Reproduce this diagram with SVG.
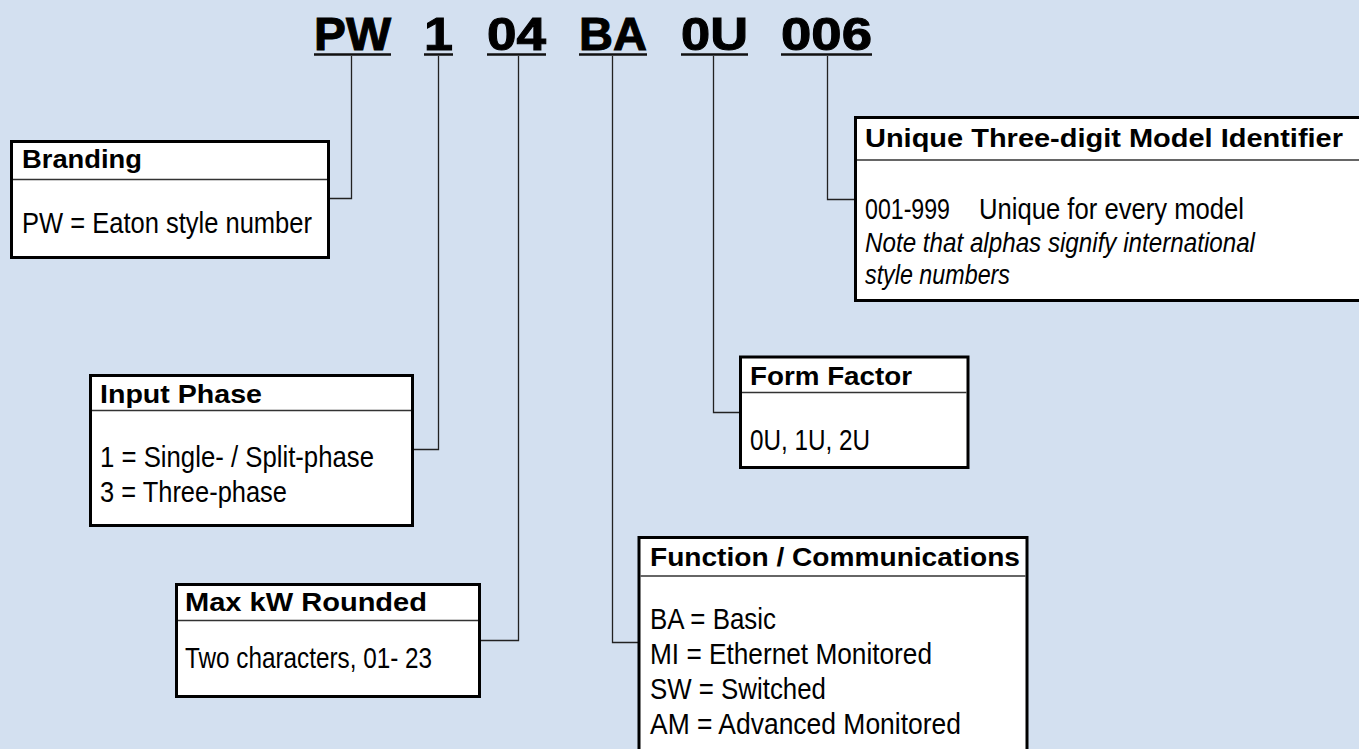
<svg xmlns="http://www.w3.org/2000/svg" width="1359" height="749" viewBox="0 0 1359 749">
<style>
.bg{fill:#D3E0F0}
.box{fill:#fff;stroke:#000;stroke-width:3}
.sep{stroke:#333;stroke-width:1.5;fill:none}
.con{stroke:#222;stroke-width:1.3;fill:none}
.ul{stroke:#111;stroke-width:2.5}
.code{font-family:"Liberation Sans",Arial,sans-serif;font-weight:bold;font-size:46px;fill:#000;stroke:#000;stroke-width:1}
.hd{font-family:"Liberation Sans",Arial,sans-serif;font-weight:bold;font-size:26px;fill:#000}
.tx{font-family:"Liberation Sans",Arial,sans-serif;font-size:29.5px;fill:#000}
.it{font-family:"Liberation Sans",Arial,sans-serif;font-size:27px;font-style:italic;fill:#000}
</style>
<rect class="bg" x="0" y="0" width="1359" height="749"/>
<g id="code">
<text class="code" x="314" y="50" textLength="77" lengthAdjust="spacingAndGlyphs">PW</text>
<text class="code" x="424" y="50" textLength="29" lengthAdjust="spacingAndGlyphs">1</text>
<text class="code" x="487" y="50" textLength="59" lengthAdjust="spacingAndGlyphs">04</text>
<text class="code" x="579" y="50" textLength="68" lengthAdjust="spacingAndGlyphs">BA</text>
<text class="code" x="681" y="50" textLength="67" lengthAdjust="spacingAndGlyphs">0U</text>
<text class="code" x="781" y="50" textLength="91" lengthAdjust="spacingAndGlyphs">006</text>
<line class="ul" x1="314" y1="54.5" x2="391" y2="54.5"/>
<line class="ul" x1="424" y1="54.5" x2="453" y2="54.5"/>
<line class="ul" x1="487" y1="54.5" x2="546" y2="54.5"/>
<line class="ul" x1="579" y1="54.5" x2="647" y2="54.5"/>
<line class="ul" x1="681" y1="54.5" x2="748" y2="54.5"/>
<line class="ul" x1="781" y1="54.5" x2="872" y2="54.5"/>
</g>
<g id="connectors">
<path class="con" d="M351.5 56 V198.5 H329"/>
<path class="con" d="M438.5 56 V449.5 H414"/>
<path class="con" d="M518.5 56 V640.5 H481"/>
<path class="con" d="M612.5 56 V642.5 H638"/>
<path class="con" d="M713.5 56 V412.5 H739"/>
<path class="con" d="M827.5 56 V199.5 H854"/>
</g>
<g id="branding">
<rect class="box" x="11.5" y="141.5" width="317" height="116"/>
<line class="sep" x1="13" y1="179.5" x2="327" y2="179.5"/>
<text class="hd" x="22" y="167.5" textLength="120" lengthAdjust="spacingAndGlyphs">Branding</text>
<text class="tx" x="22" y="233" textLength="290" lengthAdjust="spacingAndGlyphs">PW = Eaton style number</text>
</g>
<g id="unique">
<rect class="box" x="855.5" y="117.5" width="510" height="183"/>
<line class="sep" x1="857" y1="160" x2="1359" y2="160"/>
<text class="hd" x="865" y="147" textLength="478" lengthAdjust="spacingAndGlyphs">Unique Three-digit Model Identifier</text>
<text class="tx" x="865" y="219" textLength="85" lengthAdjust="spacingAndGlyphs">001-999</text>
<text class="tx" x="979" y="219" textLength="265" lengthAdjust="spacingAndGlyphs">Unique for every model</text>
<text class="it" x="865" y="252" textLength="390" lengthAdjust="spacingAndGlyphs">Note that alphas signify international</text>
<text class="it" x="865" y="284" textLength="145" lengthAdjust="spacingAndGlyphs">style numbers</text>
</g>
<g id="input-phase">
<rect class="box" x="90.5" y="375.5" width="322" height="150"/>
<line class="sep" x1="92" y1="410.5" x2="411" y2="410.5"/>
<text class="hd" x="100" y="402.5" textLength="162" lengthAdjust="spacingAndGlyphs">Input Phase</text>
<text class="tx" x="100" y="467" textLength="274" lengthAdjust="spacingAndGlyphs">1 = Single- / Split-phase</text>
<text class="tx" x="100" y="502" textLength="187" lengthAdjust="spacingAndGlyphs">3 = Three-phase</text>
</g>
<g id="form-factor">
<rect class="box" x="740.5" y="357" width="227.5" height="110.5"/>
<line class="sep" x1="742" y1="392.5" x2="966.5" y2="392.5"/>
<text class="hd" x="750" y="385" textLength="162" lengthAdjust="spacingAndGlyphs">Form Factor</text>
<text class="tx" x="750" y="450" textLength="120" lengthAdjust="spacingAndGlyphs">0U, 1U, 2U</text>
</g>
<g id="max-kw">
<rect class="box" x="176.5" y="584.5" width="303" height="112"/>
<line class="sep" x1="178" y1="620.5" x2="478" y2="620.5"/>
<text class="hd" x="185" y="611" textLength="242" lengthAdjust="spacingAndGlyphs">Max kW Rounded</text>
<text class="tx" x="185" y="668" textLength="247" lengthAdjust="spacingAndGlyphs">Two characters, 01- 23</text>
</g>
<g id="function">
<rect class="box" x="639" y="537.5" width="388" height="230"/>
<line class="sep" x1="640.5" y1="576" x2="1025.5" y2="576"/>
<text class="hd" x="650" y="566" textLength="370" lengthAdjust="spacingAndGlyphs">Function / Communications</text>
<text class="tx" x="650" y="629" textLength="126" lengthAdjust="spacingAndGlyphs">BA = Basic</text>
<text class="tx" x="650" y="664" textLength="282" lengthAdjust="spacingAndGlyphs">MI = Ethernet Monitored</text>
<text class="tx" x="650" y="699" textLength="176" lengthAdjust="spacingAndGlyphs">SW = Switched</text>
<text class="tx" x="650" y="734" textLength="311" lengthAdjust="spacingAndGlyphs">AM = Advanced Monitored</text>
</g>
</svg>
